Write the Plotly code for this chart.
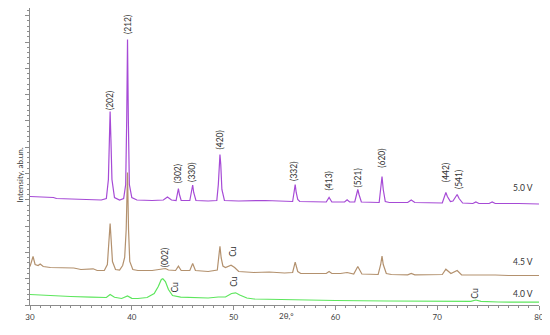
import plotly.graph_objects as go

# ---- data (2theta, intensity a.u., curves already stacked) ----
theta_50 = [30.0, 32.0, 32.3, 32.6, 35.0, 37.0, 37.5, 37.7, 37.8, 37.87, 37.95, 38.05, 38.3, 38.8,
            39.2, 39.4, 39.5, 39.58, 39.66, 39.76, 40.0, 40.5, 42.0, 43.1, 43.5, 43.9, 44.35, 44.5,
            44.58, 44.68, 44.85, 45.7, 45.88, 45.98, 46.08, 46.3, 47.5, 48.35, 48.5, 48.58, 48.66,
            48.74, 48.85, 49.1, 50.5, 53.1, 55.8, 55.95, 56.05, 56.15, 56.3, 56.5, 58.0, 59.1, 59.38,
            59.65, 60.9, 61.15, 61.4, 61.9, 62.08, 62.2, 62.32, 62.55, 64.3, 64.45, 64.58, 64.7,
            64.9, 65.3, 67.1, 67.45, 67.8, 70.5, 70.7, 70.85, 71.0, 71.3, 71.55, 71.8, 71.96, 72.15,
            72.5, 73.5, 73.8, 74.1, 75.1, 75.4, 75.7, 78.0, 80.0]
int_50 = [108.5, 107, 107.5, 106.5, 105.5, 105, 106.5, 125.5, 165.5, 193.5, 165.5, 125.5, 107.5, 105,
          106.5, 120.5, 185.5, 265.5, 185.5, 120.5, 107.5, 105, 104.5, 105, 108, 105, 104.5, 110.5,
          116.5, 110.5, 104.5, 104.5, 112.5, 120, 112.5, 104.5, 104, 104.5, 120.5, 140.5, 150.5,
          140.5, 115.5, 104.5, 104, 104.5, 103.5, 113.5, 120.5, 112.5, 105.5, 103.5, 103, 103, 107.5,
          103, 103, 105.2, 103, 103, 110.5, 115.5, 110.5, 103, 102.5, 115.5, 128.5, 115.5,
          103.5, 102.5, 102.5, 105, 102.5, 102, 108.5, 112.5, 108.5, 103.5, 104, 107.5, 110.5, 106.5,
          102, 101.5, 103, 101.5, 101.5, 103, 101.5, 101.5, 101]

theta_45 = [30.0, 30.3, 30.5, 30.8, 31.0, 31.3, 32.0, 33.0, 34.3, 35.0, 36.2, 36.6, 37.3, 37.6, 37.75,
            37.87, 37.97, 38.1, 38.4, 38.8, 39.1, 39.3, 39.45, 39.58, 39.68, 39.8, 40.1, 40.6, 42.0,
            43.0, 43.3, 43.6, 44.3, 44.58, 44.85, 45.7, 45.98, 46.25, 47.5, 48.4, 48.55, 48.66, 48.78,
            48.95, 49.2, 49.4, 49.75, 50.1, 50.5, 52.0, 53.5, 55.0, 55.8, 56.05, 56.3, 56.6, 58.0,
            59.1, 59.38, 59.65, 60.5, 61.15, 61.8, 62.2, 62.6, 64.2, 64.45, 64.58, 64.7, 65.0, 65.5,
            67.1, 67.45, 67.8, 70.5, 70.85, 71.35, 71.96, 72.4, 73.5, 73.8, 74.1, 75.1, 75.4, 75.7,
            77.0, 80.0]
int_45 = [38.5, 48.5, 40.5, 39.5, 41, 38.5, 37.5, 37, 37, 35.5, 36.2, 34.5, 34.5, 40.5, 65.5,
          81.5, 65.5, 43.5, 35.5, 35, 39.5, 47.5, 75.5, 132.5, 75.5, 43.5, 35.5, 34.5, 34.5,
          35.5, 36.5, 35, 34.5, 38.8, 34.5, 34.5, 41.5, 34.5, 33.5, 35, 47, 58.8, 47,
          39, 37.5, 38.5, 39.8, 37.5, 33.5, 32.5, 33, 32, 32.5, 42.8, 33.5, 31.5, 31.5,
          31.5, 33.5, 31.5, 31.5, 32.5, 31, 38.5, 31, 30.5, 40.5, 48.8, 40.5, 31.5, 30.5,
          30.2, 31.5, 30.2, 30.5, 35.8, 31.5, 34.5, 30, 30, 30.7, 30, 30, 30.7, 30,
          29.5, 29.5]

theta_40 = [30.0, 32.0, 34.0, 36.0, 37.5, 37.87, 38.3, 39.0, 39.58, 40.0, 40.6, 41.5, 42.2, 42.6,
            42.9, 43.05, 43.3, 43.6, 44.0, 44.8, 46.0, 47.5, 48.5, 49.2, 49.8, 50.2, 50.6, 51.3,
            52.0, 55.0, 60.0, 65.0, 70.0, 73.3, 73.8, 74.3, 76.0, 80.0]
int_40 = [10.5, 9.2, 8.5, 7.8, 7.5, 10.5, 7.7, 6.5, 9, 6.7, 6.5, 7.5, 11.5, 18.5,
          25.5, 26.2, 23.5, 15.5, 9.5, 7.8, 7.5, 7, 8, 8, 11.5, 12.2, 10, 7,
          6, 5.3, 4.5, 4, 3.5, 3.7, 5, 3.7, 3, 2.8]

series_names = ["5.0 V", "4.5 V", "4.0 V"]
series_colors = ["#A64AD6", "#B3916E", "#5DE65D"]

# x tick labels
x_ticks = [30, 40, 50, 60, 70, 80]

# peak labels: (text, 2theta, intensity position)
label_text = ["(202)", "(212)", "(302)", "(330)", "(420)", "(332)", "(413)", "(521)", "(620)",
              "(442)", "(541)", "(002)", "Cu", "Cu", "Cu", "Cu"]
label_theta = [37.87, 39.58, 44.52, 45.98, 48.7, 56.0, 59.4, 62.2, 64.58, 70.8, 72.1, 43.2,
               50.0, 44.15, 50.1, 73.7]
label_int = [204, 280.5, 131.5, 132.8, 164.8, 133.8, 123.8, 127.2, 146.2, 132.2, 125.5, 47.2,
             53.8, 17.5, 23.8, 12.2]

# series labels at right
vlabel_int = [117.2, 42.8, 11.2]

FONT = "Lato"
fig = go.Figure()
for th, it, nm, col in zip([theta_50, theta_45, theta_40], [int_50, int_45, int_40],
                           series_names, series_colors):
    fig.add_trace(go.Scatter(x=th, y=it, mode="lines", name=nm,
                             line=dict(color=col, width=1.2), hoverinfo="skip"))

ann = []
for t, x, y in zip(label_text, label_theta, label_int):
    ann.append(dict(x=x, y=y, xref="x", yref="y", text=t, showarrow=False, textangle=-90,
                    font=dict(family=FONT, size=8.5, color="#333333")))
for t, y in zip(series_names, vlabel_int):
    ann.append(dict(x=77.2, y=y, xref="x", yref="y", text=t, showarrow=False, xanchor="left",
                    font=dict(family=FONT, size=8.5, color="#333333")))
ann.append(dict(x=-0.034, y=0.438, xref="paper", yref="paper", text="Intensity, ab.un.",
                showarrow=False, textangle=-90, font=dict(family=FONT, size=8, color="#404040")))
ann.append(dict(x=0.503, y=-0.0606, xref="paper", yref="paper", text="2θ,°",
                showarrow=False, font=dict(family=FONT, size=8, color="#404040")))

axis_col = "#8C8C8C"
# page body adds an 8px margin, so the figure is 542x327 to fill the 550x335 window
fig.update_layout(
    width=542, height=327,
    margin=dict(l=22, r=11, t=0, b=30),
    paper_bgcolor="white", plot_bgcolor="white",
    showlegend=False,
    annotations=ann,
    xaxis=dict(range=[30, 80], tickmode="array", tickvals=x_ticks,
               ticktext=[str(v) for v in x_ticks],
               showgrid=False, zeroline=False,
               showline=True, linecolor=axis_col, linewidth=1,
               ticks="outside", ticklen=4, tickcolor=axis_col, tickwidth=1,
               ticklabeloverflow="allow",
               minor=dict(tickmode="linear", tick0=30, dtick=1, ticks="outside", ticklen=2,
                          tickcolor=axis_col, showgrid=False),
               tickfont=dict(family=FONT, size=8, color="#404040"), automargin=False),
    yaxis=dict(range=[0, 297], tick0=0, dtick=26.3, showgrid=False, zeroline=False,
               showline=True, linecolor=axis_col, linewidth=1, showticklabels=False,
               ticks="outside", ticklen=4, tickcolor=axis_col, tickwidth=1,
               minor=dict(dtick=5.26, ticks="outside", ticklen=2, tickcolor=axis_col, showgrid=False),
               automargin=False),
)
fig.write_html("out.html")
